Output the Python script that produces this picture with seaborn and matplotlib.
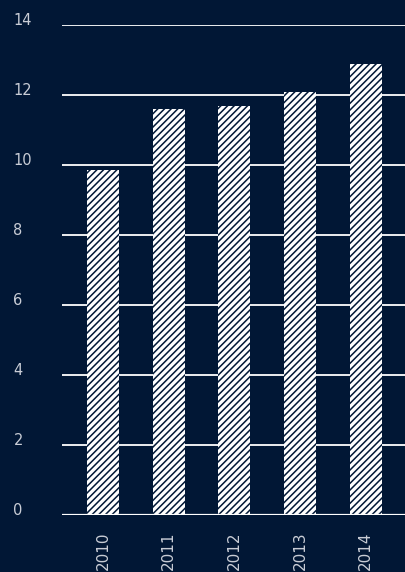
import matplotlib
matplotlib.use("Agg")
import matplotlib.pyplot as plt
import seaborn as sns
import pandas as pd

# Annual figures
years = ["2010", "2011", "2012", "2013", "2014"]
values = [9.85, 11.6, 11.7, 12.1, 12.9]
y_ticks = [0, 2, 4, 6, 8, 10, 12, 14]

NAVY = "#011735"
TEXT = "#c9cdd6"

sns.set_theme(style="dark")
plt.rcParams["font.family"] = ["DejaVu Sans"]
plt.rcParams["hatch.linewidth"] = 1.1
plt.rcParams["hatch.color"] = NAVY

df = pd.DataFrame({"year": years, "value": values})

fig = plt.figure(figsize=(4.05, 5.72), dpi=100, facecolor=NAVY)
ax = fig.add_axes([62 / 405, 1 - 515 / 572, 1 - 62 / 405, (515 - 25) / 572])
ax.set_facecolor(NAVY)

sns.barplot(data=df, x="year", y="value", color="white", width=0.49,
            edgecolor=NAVY, linewidth=0, saturation=1, ax=ax, zorder=3)
for bar in ax.patches:
    bar.set_hatch("/////")
    bar.set_edgecolor(NAVY)
    bar.set_linewidth(0)

ax.set_ylim(0, 14)
ax.set_xlim(-0.625, 4.6)
ax.set_yticks(y_ticks)
ax.set_yticklabels([str(t) for t in y_ticks], ha="left", va="baseline")
ax.yaxis.grid(True, color="white", linewidth=1.3, zorder=1)
ax.xaxis.grid(False)
ax.set_axisbelow(True)
for s in ax.spines.values():
    s.set_visible(False)
ax.axhline(0, color="white", linewidth=1.6, zorder=4)

ax.tick_params(axis="y", length=0, pad=35, labelsize=10.5, labelcolor=TEXT)
ax.tick_params(axis="x", length=0, pad=12, labelsize=11, labelcolor=TEXT,
               labelrotation=90)
ax.set_xlabel("")
ax.set_ylabel("")

fig.savefig("out.png", dpi=100, facecolor=NAVY)
